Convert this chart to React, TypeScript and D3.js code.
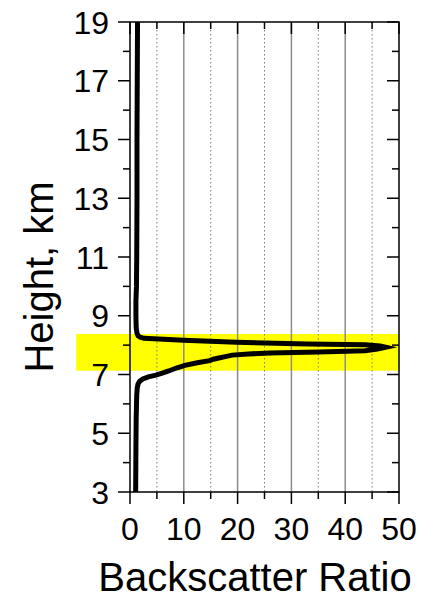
import React, { useEffect, useRef } from "react";
import * as d3 from "d3";

// Lidar profile (height in km, backscatter ratio)
const profileHeight = [
  19, 17, 15, 13, 11, 10, 9.5, 9, 8.6, 8.4, 8.32, 8.27, 8.23, 8.17, 8.1, 8.07, 8.04, 8.01,
  7.97, 7.93, 7.87, 7.81, 7.77, 7.73, 7.7, 7.66, 7.6, 7.56, 7.52, 7.47, 7.4, 7.31, 7.22,
  7.12, 7.05, 6.98, 6.92, 6.85, 6.77, 6.68, 6.55, 6.3, 5.5, 4.5, 3,
];
const profileRatio = [
  1.4, 1.35, 1.3, 1.3, 1.25, 1.2, 1.1, 1.1, 1.15, 1.3, 1.5, 1.9, 2.6, 9.9, 19.8, 25, 33, 43.7,
  46.5, 47.5, 46, 43.7, 35, 26, 22, 19, 17.5, 16.5, 15.5, 14.8, 12.5, 10.2, 8.6,
  7.2, 6.0, 4.8, 3.4, 2.4, 1.8, 1.5, 1.35, 1.25, 1.15, 1.1, 1.05,
];

// highlighted cloud layer
const layerBottom = 7.13;
const layerTop = 8.38;

const xMajor = [0, 10, 20, 30, 40, 50];
const xMinor = [5, 15, 25, 35, 45];
const yMajor = [3, 5, 7, 9, 11, 13, 15, 17, 19];
const yMinor = [4, 6, 8, 10, 12, 14, 16, 18];

const FONT = "'Liberation Sans', Arial, sans-serif";

export default function App() {
  const svgRef = useRef<SVGSVGElement | null>(null);

  useEffect(() => {
    const width = 436;
    const height = 600;
    const margin = { top: 22, right: 37, bottom: 108, left: 130 };
    const w = width - margin.left - margin.right;
    const h = height - margin.top - margin.bottom;

    const root = d3.select(svgRef.current);
    root.selectAll("*").remove();
    root.attr("width", width).attr("height", height);

    const svg = root.append("g").attr("transform", `translate(${margin.left},${margin.top})`);

    const x = d3.scaleLinear().domain([0, 50]).range([0, w]);
    const y = d3.scaleLinear().domain([3, 19]).range([h, 0]);

    // yellow band, runs left over the tick labels
    svg
      .append("rect")
      .attr("x", x(-10))
      .attr("y", y(layerTop))
      .attr("width", x(50) - x(-10))
      .attr("height", y(layerBottom) - y(layerTop))
      .attr("fill", "#ffff00");

    // grid
    svg
      .selectAll(".gmaj")
      .data(xMajor.slice(1, -1))
      .join("line")
      .attr("x1", (d) => x(d))
      .attr("x2", (d) => x(d))
      .attr("y1", 0)
      .attr("y2", h)
      .attr("stroke", "#8c8c8c")
      .attr("stroke-width", 1.5);
    svg
      .selectAll(".gmin")
      .data(xMinor)
      .join("line")
      .attr("x1", (d) => x(d))
      .attr("x2", (d) => x(d))
      .attr("y1", 0)
      .attr("y2", h)
      .attr("stroke", "#777")
      .attr("stroke-width", 1)
      .attr("stroke-dasharray", "1.5,2.5");

    // ticks: bottom & left outward, top & right inward
    const tick = (x1: number, y1: number, x2: number, y2: number) =>
      svg
        .append("line")
        .attr("x1", x1)
        .attr("y1", y1)
        .attr("x2", x2)
        .attr("y2", y2)
        .attr("stroke", "#000")
        .attr("stroke-width", 1.5);

    xMajor.forEach((d) => {
      tick(x(d), h, x(d), h + 12);
      tick(x(d), 0, x(d), 12);
    });
    xMinor.forEach((d) => {
      tick(x(d), h, x(d), h + 7);
      tick(x(d), 0, x(d), 7);
    });
    yMajor.forEach((d) => {
      tick(-12, y(d), 0, y(d));
      tick(w - 12, y(d), w, y(d));
    });
    yMinor.forEach((d) => {
      tick(-7, y(d), 0, y(d));
      tick(w - 7, y(d), w, y(d));
    });

    // frame
    svg
      .append("rect")
      .attr("x", 0)
      .attr("y", 0)
      .attr("width", w)
      .attr("height", h)
      .attr("fill", "none")
      .attr("stroke", "#000")
      .attr("stroke-width", 1.5);

    // profile
    const pts = profileHeight.map((hgt, i) => [profileRatio[i], hgt] as [number, number]);
    const line = d3
      .line<[number, number]>()
      .x((d) => x(d[0]))
      .y((d) => y(d[1]));
    svg
      .append("path")
      .attr("d", line(pts))
      .attr("fill", "none")
      .attr("stroke", "#000")
      .attr("stroke-width", 5)
      .attr("stroke-linejoin", "miter")
      .attr("stroke-miterlimit", 20);

    // tick labels
    svg
      .selectAll(".xl")
      .data(xMajor)
      .join("text")
      .attr("x", (d) => x(d))
      .attr("y", h + 48)
      .attr("text-anchor", "middle")
      .style("font-family", FONT)
      .style("font-size", "32px")
      .text((d) => d);
    svg
      .selectAll(".yl")
      .data(yMajor)
      .join("text")
      .attr("x", -21)
      .attr("y", (d) => y(d))
      .attr("dy", "0.36em")
      .attr("text-anchor", "end")
      .style("font-family", FONT)
      .style("font-size", "32px")
      .text((d) => d);

    // axis titles
    root
      .append("text")
      .attr("x", 255)
      .attr("y", 591)
      .attr("text-anchor", "middle")
      .style("font-family", FONT)
      .style("font-size", "40px")
      .text("Backscatter Ratio");
    root
      .append("text")
      .attr("transform", "translate(53,277) rotate(-90)")
      .attr("text-anchor", "middle")
      .style("font-family", FONT)
      .style("font-size", "40px")
      .text("Height, km");
  }, []);

  return <svg ref={svgRef} style={{ position: "absolute", left: 0, top: 0, background: "#fff" }} />;
}
